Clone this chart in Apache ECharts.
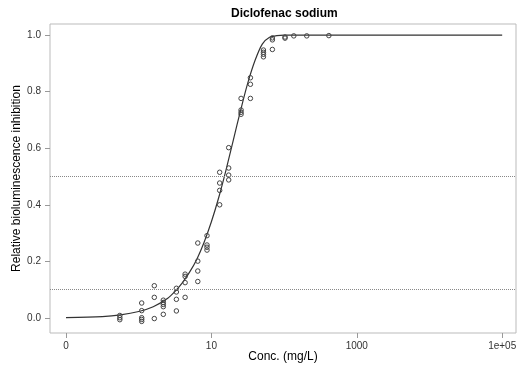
<!DOCTYPE html>
<html>
<head>
<meta charset="utf-8">
<script src="https://cdn.jsdelivr.net/npm/echarts@6/dist/echarts.min.js"></script>
<style>html,body{margin:0;padding:0;background:#fff}#c{width:524px;height:374px}</style>
</head>
<body>
<div id="c"></div>
<script>
// Concentrations (mg/L) of observed points and responses at each concentration
var concentrations = [0.55, 1.1, 1.64, 2.18, 3.3, 4.35, 6.5, 8.7, 13, 17.3, 25.6, 34.4, 52, 69, 103, 136, 205, 413];
var responses = [
  [0.009, 0.001, -0.006],
  [0.053, 0.026, 0.001, -0.005, -0.012],
  [0.114, 0.073, -0.002],
  [0.063, 0.055, 0.048, 0.040, 0.013],
  [0.105, 0.092, 0.066, 0.025],
  [0.155, 0.147, 0.125, 0.073],
  [0.265, 0.201, 0.166, 0.129],
  [0.291, 0.258, 0.250, 0.240],
  [0.515, 0.477, 0.451, 0.400],
  [0.602, 0.530, 0.505, 0.488],
  [0.776, 0.735, 0.727, 0.720],
  [0.849, 0.826, 0.776],
  [0.947, 0.939, 0.932, 0.923],
  [0.990, 0.983, 0.949],
  [0.993, 0.989],
  [0.997],
  [0.997],
  [0.998]
];
// Fitted curve (log10 concentration, response)
var curveLog10Conc = [-1, -0.5, -0.25, 0, 0.2, 0.4, 0.5, 0.6, 0.7, 0.8, 0.9, 1.0, 1.1, 1.2, 1.3, 1.4, 1.5, 1.6, 1.7, 1.8, 1.9, 2.0, 2.5, 3, 4, 5];
var curveResponse = [0.001, 0.005, 0.011, 0.023, 0.040, 0.070, 0.094, 0.124, 0.162, 0.208, 0.268, 0.340, 0.425, 0.522, 0.627, 0.732, 0.830, 0.910, 0.968, 0.992, 0.998, 1.0, 1.0, 1.0, 1.0, 1.0];
// Tick labels
var xTickPositions = [-1, 1, 3, 5];
var xTickLabels = ['0', '10', '1000', '1e+05'];
var yTickValues = [0, 0.2, 0.4, 0.6, 0.8, 1.0];
var refLines = [0.5, 0.1];

var points = [];
concentrations.forEach(function (c, i) {
  responses[i].forEach(function (r) { points.push([Math.log10(c), r]); });
});
var curve = curveLog10Conc.map(function (x, i) { return [x, curveResponse[i]]; });

var chart = echarts.init(document.getElementById('c'), null, {renderer: 'canvas'});
var font = 'Liberation Sans, Arial, sans-serif';
chart.setOption({
  animation: false,
  backgroundColor: '#fff',
  title: {
    text: 'Diclofenac sodium', left: 226, top: 3,
    textStyle: {fontFamily: font, fontSize: 12, fontWeight: 'bold', color: '#000'}
  },
  grid: {left: 50, right: 8, top: 24, bottom: 41, show: true, borderColor: '#bbb', borderWidth: 1, containLabel: false},
  xAxis: {
    type: 'value', min: -1.22, max: 5.19,
    name: 'Conc. (mg/L)', nameLocation: 'middle', nameGap: 18, nameMoveOverlap: false,
    nameTextStyle: {fontFamily: font, fontSize: 12, color: '#000'},
    axisLine: {show: false, onZero: false},
    splitLine: {show: false},
    axisTick: {show: true, length: 5, customValues: xTickPositions, lineStyle: {color: '#999'}},
    axisLabel: {
      customValues: xTickPositions, margin: 8,
      fontFamily: font, fontSize: 10, color: '#333',
      formatter: function (v) { var i = xTickPositions.indexOf(v); return i >= 0 ? xTickLabels[i] : ''; }
    }
  },
  yAxis: {
    type: 'value', min: -0.053, max: 1.039,
    name: 'Relative bioluminescence inhibition', nameLocation: 'middle', nameGap: 27, nameMoveOverlap: false,
    nameTextStyle: {fontFamily: font, fontSize: 12, color: '#000'},
    axisLine: {show: false, onZero: false},
    splitLine: {show: false},
    axisTick: {show: true, length: 5, customValues: yTickValues, lineStyle: {color: '#999'}},
    axisLabel: {
      customValues: yTickValues, margin: 9,
      fontFamily: font, fontSize: 10, color: '#333',
      formatter: function (v) { return v.toFixed(1); }
    }
  },
  series: [
    {
      type: 'line', data: curve, smooth: 0.3, showSymbol: false, symbol: 'none',
      lineStyle: {color: '#333', width: 1.2},
      markLine: {
        silent: true, symbol: 'none', label: {show: false},
        lineStyle: {color: '#888', type: 'dotted', width: 1},
        data: refLines.map(function (v) { return {yAxis: v}; })
      },
      z: 2
    },
    {
      type: 'scatter', data: points, symbol: 'circle', symbolSize: 4.5,
      itemStyle: {color: 'rgba(0,0,0,0)', borderColor: '#444', borderWidth: 1, opacity: 1},
      z: 3
    }
  ]
});
</script>
</body>
</html>
